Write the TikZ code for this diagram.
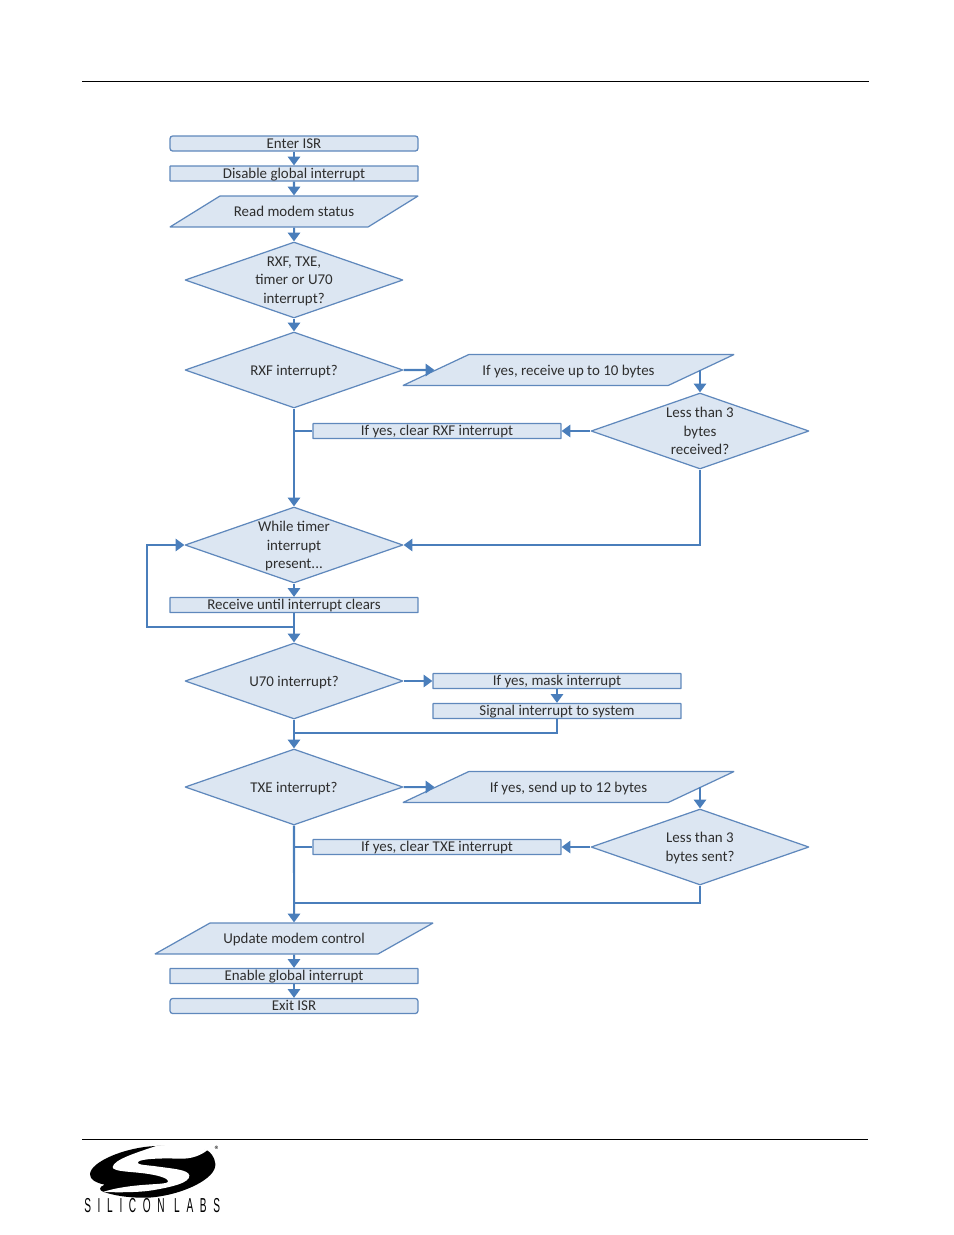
\documentclass[tikz,border=0pt]{standalone}
\usepackage{fontspec}
\setmainfont{Carlito}
\newfontfamily\logofont[FakeStretch=0.5,LetterSpace=33]{Liberation Sans}
\usetikzlibrary{shapes.geometric,arrows.meta}

\definecolor{boxfill}{HTML}{DCE6F2}
\definecolor{boxline}{HTML}{5F88BC}
\definecolor{flowline}{HTML}{4A7EBB}
\definecolor{boxtext}{HTML}{2E2E2E}

\tikzset{
    boxnode/.style={draw=boxline,fill=boxfill,text=boxtext,line width=0.7pt,inner sep=0pt,
        rounded corners=0.2pt,minimum width=4.96cm,minimum height=0.30cm,
        text height=6.4pt,text depth=1pt,font=\fontsize{8.5}{10.5}\selectfont},
    startnode/.style={boxnode,rounded corners=1.5pt},
    decision/.style={boxnode,shape=diamond,aspect=2.87,inner sep=-5pt,align=center,
        text height=,text depth=,minimum width=4.36cm,minimum height=1.52cm,
        execute at begin node={\rule{0pt}{7.6pt}}},
    decisionlines/.style={decision,text depth=0pt},
    ionode/.style={boxnode,shape=trapezium,trapezium stretches body=true,
        text height=11.7pt,text depth=5.9pt,
        trapezium left angle=#1,trapezium right angle=180-#1},
    flow/.style={draw=flowline,line width=1.15pt,-{Triangle[length=5pt,width=7pt]}},
    joinline/.style={draw=flowline,line width=1.15pt}
}

\begin{document}
\begin{tikzpicture}[x=0.02cm,y=-0.02cm]
    \useasboundingbox (0,0) rectangle (954,1235);

    % page rules
    \draw[line width=0.5pt] (82,81.5) -- (869,81.5);
    \draw[line width=0.5pt] (82,1139) -- (868,1139);

    % main column
    \node[startnode] (enter) at (294,143.5) {Enter ISR};
    \node[boxnode] (disable) at (294,173.5) {Disable global interrupt};
    \node[ionode=31.8,minimum width=4.96cm] (status) at (294,211.5) {Read modem status};
    \node[decisionlines] (source) at (294,280) {RXF, TXE,\\timer or U70\\interrupt?};
    \node[decision] (rxf) at (294,370) {RXF interrupt?};
    \node[decisionlines] (timer) at (294,545) {While timer\\interrupt\\present...};
    \node[boxnode] (receive) at (294,605) {Receive until interrupt clears};
    \node[decision] (u70) at (294,681) {U70 interrupt?};
    \node[decision] (txe) at (294,787) {TXE interrupt?};
    \node[ionode=29.4,minimum width=5.56cm] (update) at (294,938.5) {Update modem control};
    \node[boxnode] (enable) at (294,976) {Enable global interrupt};
    \node[startnode] (exit) at (294,1006) {Exit ISR};

    % RXF branch
    \node[ionode=25.2,minimum width=6.62cm] (recvbytes) at (568.5,370) {If yes, receive up to 10 bytes};
    \node[decisionlines] (lessrecv) at (700,431) {Less than 3\\bytes\\received?};
    \node[boxnode] (clearrxf) at (437,431) {If yes, clear RXF interrupt};

    % U70 branch
    \node[boxnode] (mask) at (557,681) {If yes, mask interrupt};
    \node[boxnode] (signal) at (557,711) {Signal interrupt to system};

    % TXE branch
    \node[ionode=25.2,minimum width=6.62cm] (sendbytes) at (568.5,787) {If yes, send up to 12 bytes};
    \node[decisionlines] (lesssent) at (700,847) {Less than 3\\bytes sent?};
    \node[boxnode] (cleartxe) at (437,847) {If yes, clear TXE interrupt};

    % points where lines meet the column
    \coordinate (rxfjoin) at (294,431);
    \coordinate (loopjoin) at (294,627);
    \coordinate (loopcorner) at (147,627);
    \coordinate (u70join) at (294,733);
    \coordinate (txejoin) at (294,847);
    \coordinate (updatejoin) at (294,903);

    \draw[flow] (enter) -- (disable);
    \draw[flow] (disable) -- (status);
    \draw[flow] (status) -- (source);
    \draw[flow] (source) -- (rxf);
    \draw[flow] (rxf) -- (timer);
    \draw[flow] (timer) -- (receive);
    \draw[flow] (receive) -- (u70);
    \draw[flow] (u70) -- (txe);
    \draw[flow] (txe) -- (update);
    \draw[flow] (update) -- (enable);
    \draw[flow] (enable) -- (exit);

    \draw[flow] (rxf.east) -- (recvbytes.west);
    \draw[flow] (lessrecv.north |- recvbytes.east) -- (lessrecv.north);
    \draw[flow] (lessrecv.west) -- (clearrxf.east);
    \draw[joinline] (clearrxf.west) -- (rxfjoin);
    \draw[flow] (lessrecv.south) |- (timer.east);

    \draw[flow] (loopjoin) -- (loopcorner) |- (timer.west);

    \draw[flow] (u70.east) -- (mask.west);
    \draw[flow] (mask) -- (signal);
    \draw[joinline] (signal.south) |- (u70join);

    \draw[flow] (txe.east) -- (sendbytes.west);
    \draw[flow] (lesssent.north |- sendbytes.east) -- (lesssent.north);
    \draw[flow] (lesssent.west) -- (cleartxe.east);
    \draw[joinline] (cleartxe.west) -- (txejoin);
    \draw[joinline] (lesssent.south) |- (updatejoin);

    % logo
    \begin{scope}[shift={(82,1142)},x=0.00667cm,y=-0.00667cm]
        \fill (222,12) .. controls (130,15) and (24,60) .. (24,97)
            .. controls (24,112) and (40,122) .. (68,128)
            .. controls (50,135) and (50,145) .. (65,150)
            .. controls (110,165) and (160,168) .. (200,167)
            .. controls (300,160) and (405,110) .. (400,65)
            .. controls (398,45) and (385,30) .. (375,25)
            .. controls (340,20) and (280,10) .. (222,12) -- cycle;
        \fill[white] (222,12) .. controls (170,30) and (95,52) .. (92,75)
            .. controls (92,90) and (150,88) .. (200,96)
            .. controls (240,102) and (262,112) .. (258,120)
            .. controls (250,130) and (150,122) .. (62,150)
            .. controls (130,152) and (180,150) .. (210,145)
            .. controls (270,135) and (325,122) .. (322,100)
            .. controls (318,82) and (270,80) .. (215,72)
            .. controls (180,68) and (165,68) .. (168,60)
            .. controls (175,50) and (240,48) .. (290,50)
            .. controls (330,52) and (360,38) .. (375,25)
            .. controls (340,8) and (270,6) .. (222,12) -- cycle;
        \node[font=\fontsize{6}{6}\selectfont,inner sep=0pt] (regmark) at (406,25) {\textregistered};
    \end{scope}
    \node[font=\logofont\fontsize{11.5}{12}\selectfont,inner sep=0pt,anchor=base west] (logotext) at (84,1212) {SILICON LABS};
\end{tikzpicture}
\end{document}
